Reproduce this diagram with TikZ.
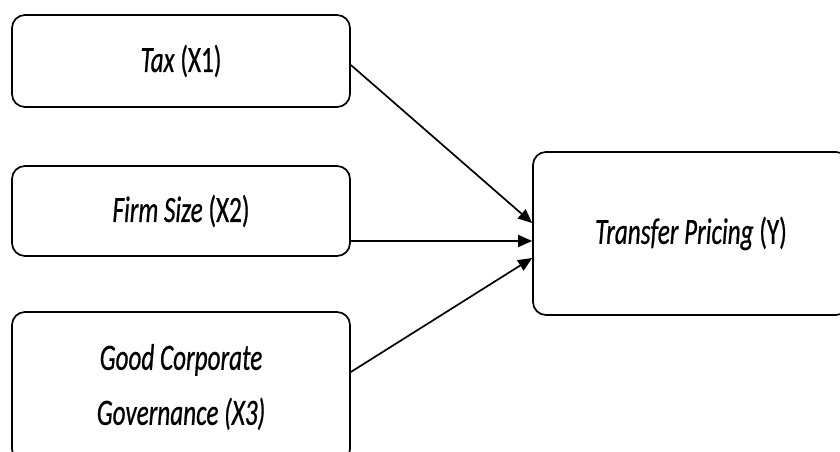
\documentclass[tikz,border=0pt]{standalone}
\usepackage{fontspec}
\usetikzlibrary{arrows.meta}
\newfontfamily\boxfont[FakeStretch=0.68,FakeBold=0.6]{Carlito}
\begin{document}
\begin{tikzpicture}[
      x=1pt, y=1pt,
      every node/.style={font=\boxfont\fontsize{37}{55}\selectfont},
      varbox/.style={rectangle, draw=black, line width=1.7pt, rounded corners=13pt, align=center, inner sep=0pt},
      indep/.style={varbox, minimum width=338pt},
      dep/.style={varbox, minimum width=316pt, minimum height=163pt},
      link/.style={line width=1.7pt, -{Triangle[length=14pt,width=12pt]}}
  ]
    \clip (0,0) rectangle (840,452);
    \fill[white] (0,0) rectangle (840,452);

    \node[indep, minimum height=92pt] (tax) at (181,391) {\textit{Tax} (X1)};
    \node[indep, minimum height=90pt] (firm) at (181,241) {\textit{Firm Size} (X2)};
    \node[indep, minimum height=150pt] (gcg) at (181,65) {\textit{Good Corporate}\\\textit{Governance (X3)}};
    \node[dep] (tp) at (691,218.5) {\textit{Transfer Pricing} (Y)};

    \draw[link] ([yshift=-4pt]tax.east) -- ([yshift=10.5pt]tp.west);
    \draw[link] ([yshift=-30pt]firm.east) -- ([yshift=-7.5pt]tp.west);
    \draw[link] ([yshift=15pt]gcg.east) -- ([yshift=-24.5pt]tp.west);
  \end{tikzpicture}
\end{document}
